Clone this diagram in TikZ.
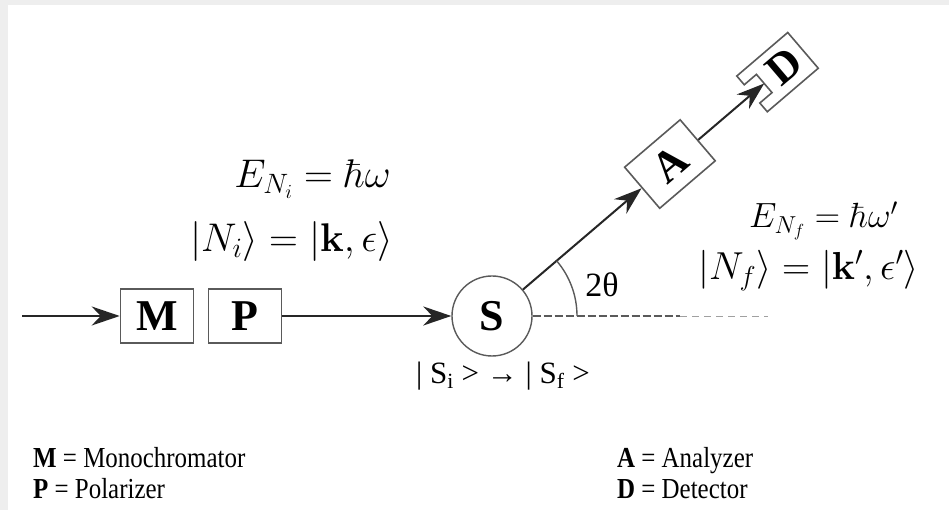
\documentclass[tikz,border=0pt]{standalone}
\usepackage{fix-cm}
\usepackage{amsmath}
\usepackage[no-math]{fontspec}
\setmainfont{Liberation Serif}
\newfontfamily\legendfont[FakeStretch=0.86]{Liberation Serif}
\usepackage{xcolor}
\usetikzlibrary{arrows.meta}
\definecolor{boxBorder}{RGB}{90, 90, 90}
\definecolor{paperGray}{RGB}{238, 238, 238}
\definecolor{dashLight}{RGB}{160, 160, 160}

\begin{document}
\begin{tikzpicture}[x=1pt, y=1pt,
  box/.style={rectangle, draw=boxBorder, line width=1.6pt, fill=white,
    minimum width=73pt, minimum height=54pt, inner sep=0pt,
    font=\fontsize{44}{48}\selectfont\bfseries},
  arrow/.style={-{Stealth[length=28pt, width=19pt, inset=9pt]}, line width=2pt, black!85},
  formula/.style={inner sep=0pt, font=\fontsize{40}{46}\selectfont},
  legend/.style={inner sep=0pt, anchor=base west, font=\legendfont\fontsize{29}{32}\selectfont}
]
% background
\fill[paperGray] (0,0) rectangle (949,510);
\fill[white] (8,0) rectangle (949,505);

% beam line
\coordinate (in) at (22,194);
\node[box] (M) at (157,194) {M};
\node[box] (P) at (245,194) {P};
\node[circle, draw=boxBorder, line width=1.4pt, fill=white, minimum size=80pt, inner sep=0pt,
  font=\fontsize{44}{48}\selectfont\bfseries] (S) at (492,194) {S};
\node[box, rotate=40.5] (A) at ([shift={(40.5:234)}]S.center) {A};

% detector with its cup
\begin{scope}[shift={(S.center)}, rotate=40.5]
  \draw[boxBorder, line width=1.6pt, fill=white]
    (342,23.5) -- (409,23.5) -- (409,-23.5) -- (342,-23.5) -- (342,-12)
    -- (358,-12) -- (358,12) -- (342,12) -- cycle;
  \node[transform shape, inner sep=0pt, font=\fontsize{44}{48}\selectfont\bfseries] (D) at (384,0) {D};
  \coordinate (Dcup) at (358,0);
\end{scope}

\draw[arrow] (in) -- (M);
\draw[arrow] (P) -- (S);
\draw[arrow] (S) -- (A);
\draw[arrow] (A) -- (Dcup);

% scattering angle
\coordinate (dashEnd) at (680,194);
\coordinate (dashFar) at (768,194);
\draw[boxBorder, line width=1.6pt, dash pattern=on 8pt off 3pt] (S.east) -- (dashEnd);
\draw[dashLight, line width=0.9pt, dash pattern=on 7pt off 5pt] (dashEnd) -- (dashFar);
\draw[boxBorder, line width=1.4pt] ([shift={(0:85)}]S.center) arc[start angle=0, end angle=40.5, radius=85];
\node[inner sep=0pt, font=\fontsize{34}{38}\selectfont] (theta) at (602,225) {2θ};

% photon states
\node[formula, anchor=base east] (Ei) at (391,322) {$E_{N_i} = \hbar\omega$};
\node[formula, anchor=base east] (Ni) at (393,258) {$|N_i\rangle = |\mathbf{k},\epsilon\rangle$};
\node[formula, anchor=base west, font=\fontsize{35}{40}\selectfont] (Ef) at (749,282) {$E_{N_f} = \hbar\omega'$};
\node[formula, anchor=base east, font=\fontsize{39}{44}\selectfont] (Nf) at (919,230) {$|N_f\rangle = |\mathbf{k}',\epsilon'\rangle$};
\node[inner sep=0pt, font=\fontsize{31}{34}\selectfont] (Sstate) at (503,134)
  {| S\textsubscript{i} > → | S\textsubscript{f} >};

% legend
\node[legend] (legM) at (33,42) {\textbf{M} = Monochromator};
\node[legend] (legP) at (33,11) {\textbf{P} = Polarizer};
\node[legend] (legA) at (617,42) {\textbf{A} = Analyzer};
\node[legend] (legD) at (617,11) {\textbf{D} = Detector};
\end{tikzpicture}
\end{document}
